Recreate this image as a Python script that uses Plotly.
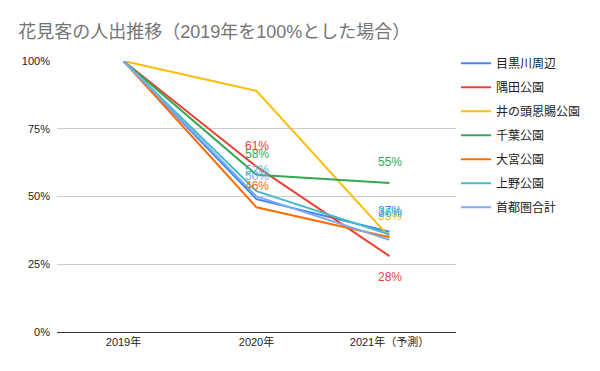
import plotly.graph_objects as go

categories = ["2019年", "2020年", "2021年（予測）"]
series_names = ["目黒川周辺", "隅田公園", "井の頭恩賜公園", "千葉公園", "大宮公園", "上野公園", "首都圏合計"]
meguro = [100, 49, 37]
sumida = [100, 61, 28]
inokashira = [100, 89, 35]
chiba = [100, 58, 55]
omiya = [100, 46, 35]
ueno = [100, 52, 36]
shutoken = [100, 50, 34]
values = [meguro, sumida, inokashira, chiba, omiya, ueno, shutoken]
colors = ["#4285F4", "#EA4335", "#FBBC04", "#34A853", "#FF6D01", "#46BDC6", "#7BAAF7"]
y_ticks = [0, 25, 50, 75, 100]

# labelled points: (series index, category index, shift direction), drawn in this order
labels = [
    (6, 1, 1), (5, 1, 1), (4, 1, 1), (3, 1, 1), (1, 1, 1),
    (2, 2, 1), (0, 2, 1), (5, 2, 1), (3, 2, 1), (1, 2, -1),
]

font_family = "Liberation Sans, Arial, Noto Sans CJK JP, sans-serif"

fig = go.Figure()
for name, vals, col in zip(series_names, values, colors):
    fig.add_trace(go.Scatter(
        x=categories, y=[v / 100 for v in vals], name=name, mode="lines",
        legendgroup=name, line=dict(color=col, width=2),
    ))

annotations = []
for si, ci, d in labels:
    v = values[si][ci]
    annotations.append(dict(
        x=categories[ci], y=v / 100, xref="x", yref="y",
        text=f"{v}%", showarrow=False, yshift=21 * d,
        font=dict(color=colors[si], size=12, family=font_family),
    ))

fig.update_layout(
    width=600, height=371,
    margin=dict(l=49, r=152, t=53, b=47, autoexpand=False),
    paper_bgcolor="white", plot_bgcolor="white",
    font=dict(family=font_family, color="#444444", size=11),
    title=dict(text="花見客の人出推移（2019年を100%とした場合）", x=0.017, xanchor="left",
               y=0.935, yanchor="middle",
               font=dict(size=18, color="#757575", family=font_family)),
    showlegend=True,
    legend=dict(x=1.0, xanchor="left", y=1.045, yanchor="top",
                font=dict(size=12, color="#222222", family=font_family),
                tracegroupgap=5, itemwidth=30,
                bgcolor="rgba(0,0,0,0)"),
    annotations=annotations,
)
fig.update_xaxes(range=[-0.5, 2.5], showgrid=False, showline=True, linecolor="#333333",
                 linewidth=1, ticks="", tickfont=dict(size=11, color="#222222"))
fig.update_yaxes(range=[0, 1], tickvals=[t / 100 for t in y_ticks],
                 ticktext=[f"{t}%" for t in y_ticks], showgrid=True, gridcolor="#cccccc",
                 zeroline=False, ticks="", tickfont=dict(size=11, color="#222222"),
                 ticklabelstandoff=6)

fig.write_html("out.html")
